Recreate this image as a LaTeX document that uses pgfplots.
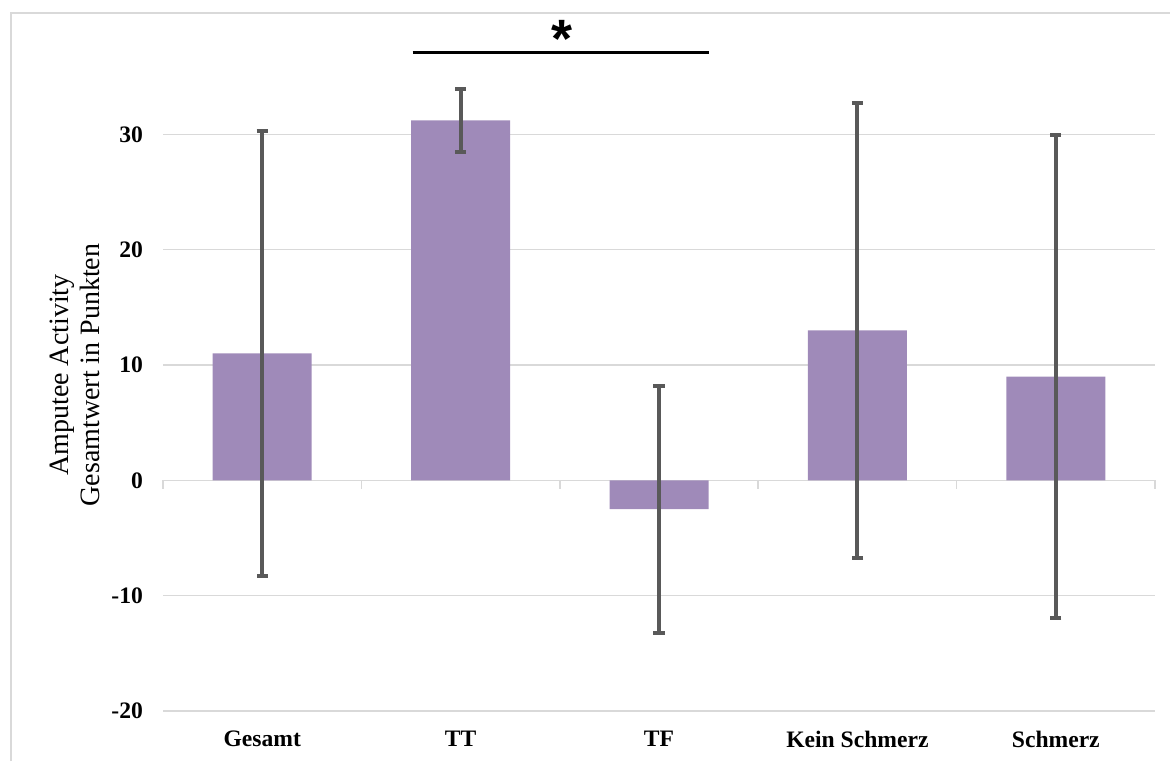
\documentclass[border=0pt]{standalone}
\usepackage{pgfplots}
\pgfplotsset{compat=1.18}
\usepackage{fontspec}
\setmainfont{Liberation Serif}
\newfontfamily\starfont{Liberation Sans}

\definecolor{barpurple}{RGB}{159,138,185}
\definecolor{errgray}{RGB}{89,89,89}
\definecolor{gridgray}{RGB}{217,217,217}

\begin{document}
\begin{tikzpicture}[x=0.5pt,y=0.5pt]
\useasboundingbox (0,0) rectangle (1170,761);
% chart frame
\draw[gridgray, line width=0.9pt] (11,0) -- (11,748) -- (1170,748);

\begin{axis}[
  at={(81.5pt,25pt)}, anchor=south west,
  scale only axis,
  width=496pt, height=346pt,
  xmin=-0.5, xmax=4.5,
  ymin=-20, ymax=40,
  enlargelimits=false,
  axis line style={draw=none},
  clip=false,
  xtick=data,
  xticklabels={Gesamt,TT,TF,Kein Schmerz,Schmerz},
  ytick={-20,-10,0,10,20,30},
  major tick length=0pt,
  tick label style={font=\fontsize{11.8}{14}\selectfont\bfseries},
  /pgf/number format/assume math mode=true,
  xticklabel style={yshift=-6.5pt},
  yticklabel style={xshift=-6.5pt},
  ylabel={Amputee Activity\\Gesamtwert in Punkten},
  every axis y label/.style={at={(rel axis cs:0,0.4855)}, rotate=90,
    anchor=center, yshift=44pt, align=center,
    font=\fontsize{14}{15.5}\selectfont},
  bar width=49.5pt,
]
% horizontal gridlines
\pgfplotsinvokeforeach{-20,-10,10,20,30}{
  \draw[gridgray, line width=0.75pt] (axis cs:-0.5,#1) -- (axis cs:4.5,#1);
}
% zero line with category separators
\draw[gridgray, line width=0.75pt] (axis cs:-0.5,0) -- (axis cs:4.5,0);
\pgfplotsinvokeforeach{-0.5,0.5,1.5,2.5,3.5,4.5}{
  \draw[gridgray, line width=0.75pt] (axis cs:#1,0) -- ++(0pt,-4.5pt);
}

\addplot[ybar, fill=barpurple, draw=none,
  error bars/.cd, y dir=both, y explicit,
  error bar style={errgray, line width=2pt},
  error mark options={errgray, rotate=90, mark size=2.8pt, line width=2pt}]
  table[x=x, y=y, y error=e] {
  x y e
  0 11.0 19.3
  1 31.2 2.7
  2 -2.5 10.7
  3 13.0 19.7
  4 9.0 20.9
};

% significance bracket between TT and TF
\draw[black, line width=1.5pt] (axis cs:0.758,37.1) -- (axis cs:2.25,37.1);
\node[anchor=south, inner sep=0pt, font=\starfont\fontsize{27}{27}\selectfont\bfseries]
  at (axis cs:1.51,36.6) {*};
\end{axis}
\end{tikzpicture}
\end{document}
